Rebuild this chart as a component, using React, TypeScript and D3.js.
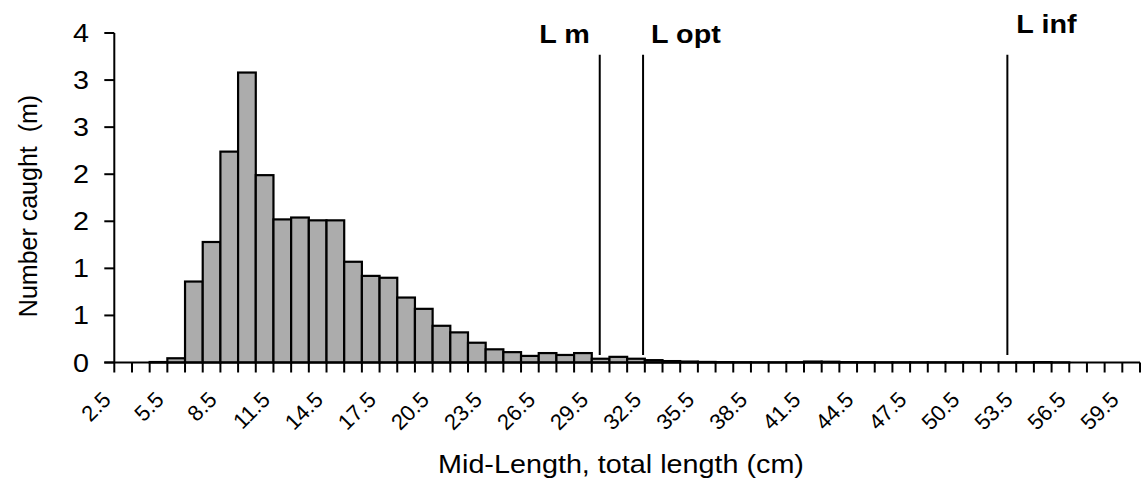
import React from 'react';
import * as d3 from 'd3';

// mid-length classes (cm)
const lengths = [
  '2.5', '3.5', '4.5', '5.5', '6.5', '7.5', '8.5', '9.5', '10.5', '11.5',
  '12.5', '13.5', '14.5', '15.5', '16.5', '17.5', '18.5', '19.5', '20.5', '21.5',
  '22.5', '23.5', '24.5', '25.5', '26.5', '27.5', '28.5', '29.5', '30.5', '31.5',
  '32.5', '33.5', '34.5', '35.5', '36.5', '37.5', '38.5', '39.5', '40.5', '41.5',
  '42.5', '43.5', '44.5', '45.5', '46.5', '47.5', '48.5', '49.5', '50.5', '51.5',
  '52.5', '53.5', '54.5', '55.5', '56.5', '57.5', '58.5', '59.5',
];

// number caught (millions)
const caught = [
  0, 0, 0.005, 0.045, 0.86, 1.28, 2.24, 3.08, 1.99, 1.52,
  1.54, 1.51, 1.51, 1.07, 0.92, 0.9, 0.69, 0.57, 0.39, 0.32,
  0.21, 0.14, 0.11, 0.07, 0.1, 0.08, 0.1, 0.04, 0.06, 0.04,
  0.025, 0.015, 0.01, 0.006, 0.004, 0.003, 0.002, 0.002, 0.003, 0.01,
  0.008, 0.004, 0.003, 0.002, 0.002, 0.002, 0.002, 0.002, 0.002, 0.001,
  0.001, 0.002, 0.004, 0.001, 0, 0, 0, 0,
];

const xTickLabels = [
  '2.5', '5.5', '8.5', '11.5', '14.5', '17.5', '20.5', '23.5', '26.5', '29.5',
  '32.5', '35.5', '38.5', '41.5', '44.5', '47.5', '50.5', '53.5', '56.5', '59.5',
];

const yTickValues = [0, 0.5, 1, 1.5, 2, 2.5, 3, 3.5];
const yTickLabels = ['0', '1', '1', '2', '2', '3', '3', '4'];

// reference lengths (cm)
const markerNames = ['L m', 'L opt', 'L inf'];
const markerValues = [29.45, 31.9, 52.5];
const markerSpan = [0.08, 3.27]; // vertical extent of the marker lines

const W = 1142;
const H = 484;
const font = '"Liberation Sans", Arial, Helvetica, sans-serif';
const SX = 1.15; // the scan is a little wider than tall

export default function App() {
  const left = 114.3;
  const right = 1140;
  const bottom = 362.5;
  const top = 33;

  const x = d3.scaleBand<string>().domain(lengths).range([left, right]).padding(0);
  const xl = d3.scaleLinear().domain([2, 60]).range([left, right]);
  const y = d3.scaleLinear().domain([0, 3.5]).range([bottom, top]);
  const bw = x.bandwidth();

  const bars = lengths.map((l, i) => ({ l, v: caught[i] }));

  // label placement for the markers: dx from line, baseline y
  const labelPos = [
    { dx: -10, y: 43, anchor: 'end' },
    { dx: 8, y: 43, anchor: 'start' },
    { dx: 9, y: 33, anchor: 'start' },
  ];

  return (
    <svg
      width={W}
      height={H}
      style={{ position: 'absolute', left: 0, top: 0, background: '#fff' }}
      fontFamily={font}
    >
      {/* bars */}
      {bars.map((d) => (
        <rect
          key={d.l}
          x={x(d.l)}
          y={y(d.v)}
          width={bw}
          height={bottom - y(d.v)}
          fill="#acacac"
          stroke="#000"
          strokeWidth={2.2}
        />
      ))}

      {/* y axis */}
      <line x1={left} x2={left} y1={top} y2={bottom} stroke="#000" strokeWidth={2} />
      {yTickValues.map((v, i) => (
        <g key={v}>
          <line x1={left - 10} x2={left} y1={y(v)} y2={y(v)} stroke="#000" strokeWidth={2} />
          <text
            transform={`translate(89, ${y(v)}) scale(${SX}, 1)`}
            dy="0.36em"
            textAnchor="end"
            fontSize={25}
          >
            {yTickLabels[i]}
          </text>
        </g>
      ))}

      {/* x axis */}
      <line x1={left - 10} x2={right} y1={bottom} y2={bottom} stroke="#000" strokeWidth={2} />
      {d3.range(lengths.length + 1).map((i) => {
        const tx = i < lengths.length ? (x(lengths[i]) as number) : right;
        return (
          <line key={i} x1={tx} x2={tx} y1={bottom} y2={bottom + 10} stroke="#000" strokeWidth={2} />
        );
      })}
      {xTickLabels.map((l) => {
        const cx = (x(l) as number) + bw / 2 - 11;
        const cy = 401;
        return (
          <text
            key={l}
            x={cx}
            y={cy}
            textAnchor="end"
            fontSize={22}
            transform={`rotate(-45, ${cx}, ${cy})`}
          >
            {l}
          </text>
        );
      })}

      {/* marker lines */}
      {markerValues.map((v, i) => (
        <g key={markerNames[i]}>
          <line
            x1={xl(v)}
            x2={xl(v)}
            y1={y(markerSpan[1])}
            y2={y(markerSpan[0])}
            stroke="#000"
            strokeWidth={2}
          />
          <text
            transform={`translate(${xl(v) + labelPos[i].dx}, ${labelPos[i].y}) scale(${SX}, 1)`}
            textAnchor={labelPos[i].anchor as any}
            fontSize={25}
            fontWeight="bold"
          >
            {markerNames[i]}
          </text>
        </g>
      ))}

      {/* axis titles */}
      <text
        transform={`translate(621, 473) scale(${SX}, 1)`}
        textAnchor="middle"
        fontSize={25}
      >
        Mid-Length, total length (cm)
      </text>
      <text
        transform={`translate(37, 206) rotate(-90)`}
        textAnchor="middle"
        fontSize={25}
        style={{ whiteSpace: 'pre' }}
      >
        {'Number caught  (m)'}
      </text>
    </svg>
  );
}
